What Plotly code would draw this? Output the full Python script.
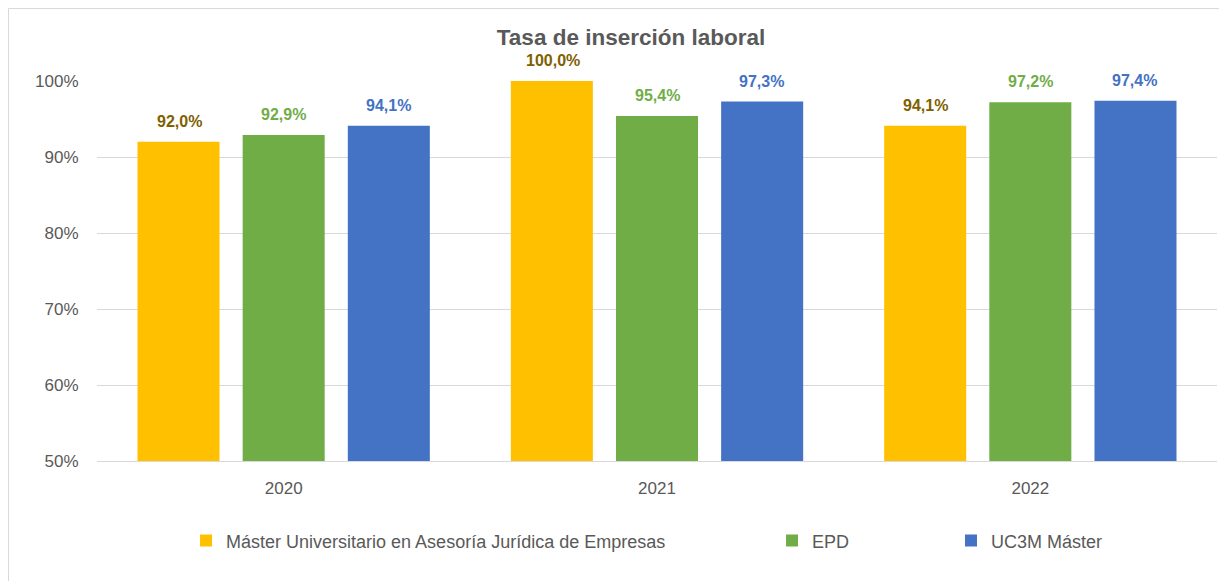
import plotly.graph_objects as go

years = ["2020", "2021", "2022"]
series_names = ["Máster Universitario en Asesoría Jurídica de Empresas", "EPD", "UC3M Máster"]
master_vals = [0.920, 1.000, 0.941]
epd_vals = [0.929, 0.954, 0.972]
uc3m_vals = [0.941, 0.973, 0.974]
y_ticks = [0.5, 0.6, 0.7, 0.8, 0.9, 1.0]

values = [master_vals, epd_vals, uc3m_vals]
bar_colors = ["#FFC000", "#70AD47", "#4472C4"]
label_colors = ["#7F6000", "#70AD47", "#4472C4"]
legend_ids = ["legend", "legend2", "legend3"]
legend_x = [0.0795, 0.6027, 0.7625]

FONT = "Liberation Sans, Arial, sans-serif"

fig = go.Figure()
for i in range(3):
    fig.add_trace(go.Bar(
        x=years, y=values[i], name=series_names[i],
        marker=dict(color=bar_colors[i], line=dict(width=0)),
        legend=legend_ids[i],
        hoverinfo="skip",
    ))
    for j, (xv, yv) in enumerate(zip(years, values[i])):
        fig.add_annotation(
            x=j, y=yv, xref="x", yref="y",
            text="<b>" + f"{yv*100:.1f}".replace(".", ",") + "%</b>",
            showarrow=False, yanchor="bottom",
            xshift=(i - 1) * 104.5, yshift=10,
            font=dict(family=FONT, size=16, color=label_colors[i]),
        )

layout_legends = {}
for i, lid in enumerate(legend_ids):
    layout_legends[lid] = dict(
        orientation="h", x=legend_x[i], y=-0.21, xanchor="left", yanchor="middle",
        font=dict(family=FONT, size=18, color="#595959"),
        bgcolor="rgba(0,0,0,0)", itemwidth=30,
    )

fig.update_layout(
    width=1219, height=573,
    margin=dict(l=89, r=10, t=73, b=120),
    paper_bgcolor="white", plot_bgcolor="white",
    barmode="group", bargap=0.155, bargroupgap=0.22,
    separators=",.",
    title=dict(text="<b>Tasa de inserción laboral</b>", x=623 / 1219, xanchor="center",
               y=1 - 29 / 573, yanchor="middle", yref="container",
               font=dict(family=FONT, size=22.5, color="#595959")),
    showlegend=True,
    xaxis=dict(
        type="category", categoryorder="array", categoryarray=years,
        showline=True, linecolor="#D9D9D9", linewidth=1,
        ticks="outside", ticklen=12, tickcolor="rgba(0,0,0,0)",
        tickfont=dict(family=FONT, size=17, color="#595959"),
    ),
    yaxis=dict(
        range=[0.5, 1.0], tickvals=y_ticks, tickformat=".0%",
        showgrid=True, gridcolor="#D9D9D9", gridwidth=1,
        zeroline=False, showline=False,
        ticks="outside", ticklen=14, tickcolor="rgba(0,0,0,0)",
        tickfont=dict(family=FONT, size=17, color="#595959"),
    ),
    **layout_legends,
)
fig.add_shape(type="rect", xref="paper", yref="paper",
              x0=(8.5 - 97) / 1120, x1=(1240 - 97) / 1120,
              y0=(461 - 600) / 380, y1=(461 - 8.5) / 380,
              line=dict(color="#D9D9D9", width=1), fillcolor="rgba(0,0,0,0)", layer="below")

fig.write_html("out.html")
